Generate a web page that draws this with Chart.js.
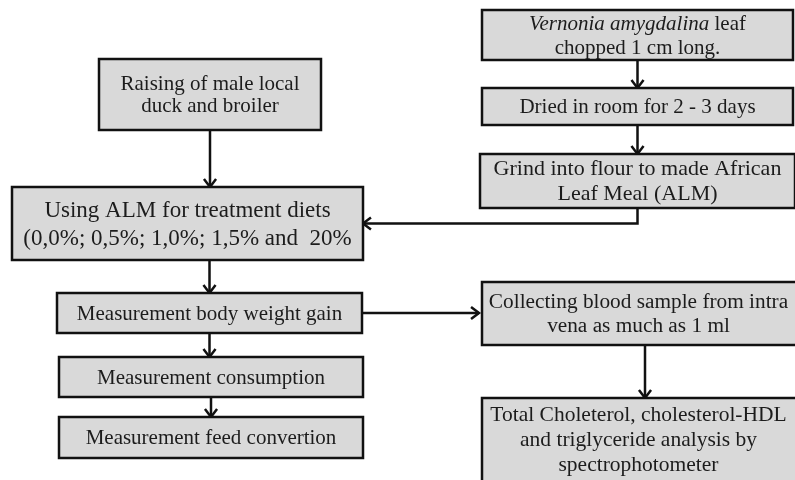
<!DOCTYPE html>
<html>
<head>
<meta charset="utf-8">
<script src="https://cdn.jsdelivr.net/npm/chart.js@4.4.0/dist/chart.umd.min.js"></script>
<style>
  html, body { margin: 0; padding: 0; background: #fff; }
  canvas { display: block; }
</style>
</head>
<body>
<canvas id="flow" width="795" height="480"></canvas>
<script>
// flowchart steps (text, *...* = italic)
const boxText = [
  "*Vernonia amygdalina* leaf\nchopped 1 cm long.",
  "Dried in room for 2 - 3 days",
  "Grind into flour to made African\nLeaf Meal (ALM)",
  "Raising of male local\nduck and broiler",
  "Using ALM for treatment diets\n(0,0%; 0,5%; 1,0%; 1,5% and  20%",
  "Measurement body weight gain",
  "Measurement consumption",
  "Measurement feed convertion",
  "Collecting blood sample from intra\nvena as much as 1 ml",
  "Total Choleterol, cholesterol-HDL\nand triglyceride analysis by\nspectrophotometer"
];
// box extents on the diagram grid (0..795 x 0..480)
const boxLeft   = [482, 482, 480,  99,  12,  57,  59,  59, 482, 482];
const boxRight  = [793, 793, 795, 321, 363, 362, 363, 363, 808, 808];
const boxTop    = [ 10,  88, 154,  59, 187, 293, 357, 417, 282, 398];
const boxBottom = [ 60, 125, 208, 130, 260, 333, 397, 458, 345, 490];
const fontSize  = [ 21,  21,  22, 21, 23,  21, 21,  21, 21.3, 21.5];
const lineGap   = [ 24,   0,  25, 22, 28,   0,  0,   0,  24,  25];

// links: [from, to, kind]
const links = [
  [0, 1, "down"],
  [1, 2, "down"],
  [3, 4, "down"],
  [2, 4, "elbow"],
  [4, 5, "downTo"],
  [5, 6, "down"],
  [6, 7, "down"],
  [5, 8, "right"],
  [8, 9, "down"]
];

function linkPoints(l) {
  const a = l[0], b = l[1];
  const cx = (boxLeft[a] + boxRight[a]) / 2;
  if (l[2] === "down") {
    return [{x: cx, y: boxBottom[a]}, {x: cx, y: boxTop[b]}];
  }
  if (l[2] === "downTo") {
    const tx = (boxLeft[b] + boxRight[b]) / 2;
    return [{x: tx, y: boxBottom[a]}, {x: tx, y: boxTop[b]}];
  }
  if (l[2] === "elbow") {
    const my = (boxTop[b] + boxBottom[b]) / 2;
    return [{x: cx, y: boxBottom[a]}, {x: cx, y: my}, {x: boxRight[b], y: my}];
  }
  const my = (boxTop[a] + boxBottom[a]) / 2;
  return [{x: boxRight[a], y: my}, {x: boxLeft[b] - 3, y: my}];
}

const boxPlugin = {
  id: 'boxes',
  afterDatasetsDraw(chart) {
    const ctx = chart.ctx;
    const xs = chart.scales.x, ys = chart.scales.y;
    ctx.save();
    // arrow heads
    ctx.strokeStyle = '#111';
    ctx.lineWidth = 2.5;
    links.forEach(l => {
      const p = linkPoints(l);
      const e = p[p.length - 1], s = p[p.length - 2];
      const ex = xs.getPixelForValue(e.x), ey = ys.getPixelForValue(e.y);
      const sx = xs.getPixelForValue(s.x), sy = ys.getPixelForValue(s.y);
      const ang = Math.atan2(ey - sy, ex - sx);
      const len = 10, spread = 0.65;
      ctx.beginPath();
      ctx.moveTo(ex - len * Math.cos(ang - spread), ey - len * Math.sin(ang - spread));
      ctx.lineTo(ex, ey);
      ctx.lineTo(ex - len * Math.cos(ang + spread), ey - len * Math.sin(ang + spread));
      ctx.stroke();
    });
    // boxes
    boxText.forEach((t, i) => {
      const x0 = xs.getPixelForValue(boxLeft[i]), x1 = xs.getPixelForValue(boxRight[i]);
      const y0 = ys.getPixelForValue(boxTop[i]), y1 = ys.getPixelForValue(boxBottom[i]);
      ctx.fillStyle = '#d9d9d9';
      ctx.fillRect(x0, y0, x1 - x0, y1 - y0);
      ctx.strokeStyle = '#111';
      ctx.lineWidth = 2.5;
      ctx.strokeRect(x0, y0, x1 - x0, y1 - y0);

      const lines = t.split('\n');
      const lh = lineGap[i];
      const fs = fontSize[i];
      const cx = (Math.min(x1, chart.width) + x0) / 2;
      const visBottom = Math.min(y1, chart.height);
      const cy = (y0 + visBottom) / 2;
      ctx.fillStyle = '#1c1c1c';
      ctx.textBaseline = 'middle';
      ctx.textAlign = 'left';
      lines.forEach((ln, k) => {
        const y = cy + (k - (lines.length - 1) / 2) * lh + 1;
        const parts = ln.split('*');
        let total = 0;
        parts.forEach((p, j) => {
          ctx.font = (j % 2 ? 'italic ' : '') + fs + 'px "Liberation Serif", serif';
          total += ctx.measureText(p).width;
        });
        let x = cx - total / 2;
        parts.forEach((p, j) => {
          ctx.font = (j % 2 ? 'italic ' : '') + fs + 'px "Liberation Serif", serif';
          ctx.fillText(p, x, y);
          x += ctx.measureText(p).width;
        });
      });
    });
    ctx.restore();
  }
};

const datasets = links.map(l => ({
  data: linkPoints(l),
  showLine: true,
  borderColor: '#111',
  borderWidth: 2.5,
  pointRadius: 0,
  fill: false
}));

new Chart(document.getElementById('flow').getContext('2d'), {
  type: 'scatter',
  data: { datasets: datasets },
  options: {
    responsive: false,
    animation: false,
    layout: { padding: 0 },
    plugins: { legend: { display: false }, tooltip: { enabled: false } },
    scales: {
      x: { type: 'linear', min: 0, max: 795, display: false },
      y: { type: 'linear', min: 0, max: 480, reverse: true, display: false }
    }
  },
  plugins: [boxPlugin]
});
</script>
</body>
</html>
